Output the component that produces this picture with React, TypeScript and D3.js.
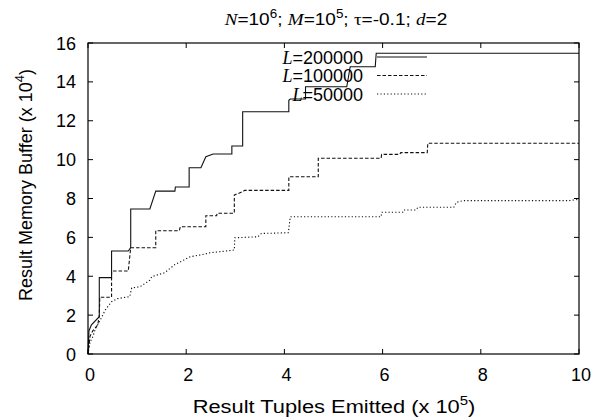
import React from 'react';
import * as d3 from 'd3';

// x in units of 10^5 tuples, y in units of 10^4
const seriesLabels = ['200000', '100000', '50000'];

const solidX = [0, 0.02, 0.07, 0.23, 0.23, 0.48, 0.48, 0.82, 0.87, 0.87, 1.26, 1.38, 1.77, 1.78, 2.06, 2.06, 2.30, 2.40, 2.55, 2.93, 2.93, 3.15, 3.15, 4.09, 4.09, 4.12, 4.43, 4.43, 5.27, 5.34, 5.85, 5.87, 10];
const solidY = [0, 1.2, 1.5, 1.92, 3.93, 3.93, 5.30, 5.30, 5.47, 7.46, 7.46, 8.38, 8.38, 8.59, 8.59, 9.58, 9.58, 10.15, 10.29, 10.29, 10.70, 10.70, 12.46, 12.46, 13.05, 13.12, 13.12, 13.75, 13.75, 14.78, 14.78, 15.47, 15.47];

const dashedX = [0, 0.04, 0.1, 0.2, 0.23, 0.24, 0.48, 0.48, 0.82, 0.87, 1.38, 1.38, 1.86, 1.88, 2.40, 2.40, 2.62, 2.63, 2.98, 2.98, 3.15, 3.19, 4.09, 4.09, 4.69, 4.69, 5.97, 5.98, 6.35, 6.37, 6.91, 6.92, 10];
const dashedY = [0, 0.9, 1.2, 1.5, 2.0, 2.92, 2.92, 4.27, 4.27, 5.47, 5.47, 6.34, 6.34, 6.55, 6.55, 7.11, 7.11, 7.24, 7.24, 8.18, 8.35, 8.42, 8.42, 9.12, 9.12, 10.07, 10.07, 10.27, 10.27, 10.36, 10.36, 10.84, 10.84];

const dottedX = [0, 0.04, 0.1, 0.15, 0.22, 0.3, 0.35, 0.48, 0.6, 0.85, 0.89, 1.06, 1.26, 1.3, 1.56, 1.77, 2.08, 2.4, 2.46, 2.98, 2.99, 3.46, 3.53, 4.08, 4.12, 5.97, 5.98, 6.41, 6.43, 6.68, 6.72, 7.45, 7.5, 7.64, 9.8, 10];
const dottedY = [0, 0.6, 0.9, 1.3, 1.6, 2.0, 2.26, 2.69, 2.85, 2.95, 3.4, 3.46, 3.8, 3.98, 4.18, 4.6, 5.0, 5.15, 5.2, 5.35, 5.98, 6.03, 6.2, 6.24, 7.06, 7.06, 7.29, 7.29, 7.41, 7.41, 7.55, 7.55, 7.8, 7.89, 7.89, 7.96];

const xTicks = [0, 2, 4, 6, 8, 10];
const yTicks = [0, 2, 4, 6, 8, 10, 12, 14, 16];

const W = 598, H = 418;
const X0 = 88, X1 = 579, Y0 = 354, Y1 = 43;
const SANS = "'Liberation Sans', Arial, Helvetica, sans-serif";
const SERIF = "'Liberation Serif', 'Times New Roman', serif";

export default function App() {
  const x = d3.scaleLinear().domain([0, 10]).range([X0, X1]);
  const y = d3.scaleLinear().domain([0, 16]).range([Y0, Y1]);
  const mk = (xs: number[], ys: number[]) =>
    d3.line<[number, number]>().x((d) => x(d[0])).y((d) => y(d[1]))(xs.map((v, i) => [v, ys[i]] as [number, number])) || '';

  const series = [
    { d: mk(solidX, solidY), dash: undefined as string | undefined, label: seriesLabels[0] },
    { d: mk(dashedX, dashedY), dash: '3.5,2', label: seriesLabels[1] },
    { d: mk(dottedX, dottedY), dash: '1.2,2.2', label: seriesLabels[2] },
  ];
  const tick = 5;
  const legendRowY = [57, 75.5, 94];

  return (
    <svg width={W} height={H} style={{ position: 'absolute', left: 0, top: 0, background: '#fff' }}>
      <rect x={0} y={0} width={W} height={H} fill="#fff" />
      {/* title */}
      <text transform="translate(336,25) scale(1.12,1)" textAnchor="middle" fontFamily={SANS} fontSize={17} fill="#000">
        <tspan fontFamily={SERIF} fontStyle="italic">N</tspan>
        <tspan>=10</tspan>
        <tspan dy={-7} fontSize={12}>6</tspan>
        <tspan dy={7}>; </tspan>
        <tspan fontFamily={SERIF} fontStyle="italic">M</tspan>
        <tspan>=10</tspan>
        <tspan dy={-7} fontSize={12}>5</tspan>
        <tspan dy={7}>; </tspan>
        <tspan fontFamily={SERIF}>τ</tspan>
        <tspan>=-0.1; </tspan>
        <tspan fontFamily={SERIF} fontStyle="italic">d</tspan>
        <tspan>=2</tspan>
      </text>

      {/* series */}
      {series.map((s, i) => (
        <path key={i} d={s.d} fill="none" stroke="#111" strokeWidth={1.1} strokeDasharray={s.dash} />
      ))}

      {/* frame */}
      <rect x={X0} y={Y1} width={X1 - X0} height={Y0 - Y1} fill="none" stroke="#000" strokeWidth={1.2} />

      {/* ticks */}
      {xTicks.map((t) => (
        <g key={'x' + t}>
          <line x1={x(t)} x2={x(t)} y1={Y0} y2={Y0 - tick} stroke="#000" />
          <line x1={x(t)} x2={x(t)} y1={Y1} y2={Y1 + tick} stroke="#000" />
          <text x={x(t) + 2} y={381} textAnchor="middle" fontFamily={SANS} fontSize={18}>{t}</text>
        </g>
      ))}
      {yTicks.map((t) => (
        <g key={'y' + t}>
          <line x1={X0} x2={X0 + tick} y1={y(t)} y2={y(t)} stroke="#000" />
          <line x1={X1} x2={X1 - tick} y1={y(t)} y2={y(t)} stroke="#000" />
          <text x={76} y={y(t) + 6.5} textAnchor="end" fontFamily={SANS} fontSize={18}>{t}</text>
        </g>
      ))}

      {/* axis labels */}
      <text transform="translate(334,413) scale(1.15,1)" textAnchor="middle" fontFamily={SANS} fontSize={19}>
        <tspan>Result Tuples Emitted (x 10</tspan>
        <tspan dy={-8} fontSize={13}>5</tspan>
        <tspan dy={8}>)</tspan>
      </text>
      <text transform="translate(32,185) rotate(-90)" textAnchor="middle" fontFamily={SANS} fontSize={18}>
        <tspan>Result Memory Buffer (x 10</tspan>
        <tspan dy={-8} fontSize={13}>4</tspan>
        <tspan dy={8}>)</tspan>
      </text>

      {/* legend */}
      {series.map((s, i) => (
        <g key={'l' + i}>
          <text x={363} y={legendRowY[i] + 6.5} textAnchor="end" fontFamily={SANS} fontSize={18}>
            <tspan fontFamily={SERIF} fontStyle="italic">L</tspan>
            <tspan>={s.label}</tspan>
          </text>
          <line x1={377} x2={427} y1={legendRowY[i]} y2={legendRowY[i]} stroke="#111" strokeWidth={1.1} strokeDasharray={s.dash} />
        </g>
      ))}
    </svg>
  );
}
